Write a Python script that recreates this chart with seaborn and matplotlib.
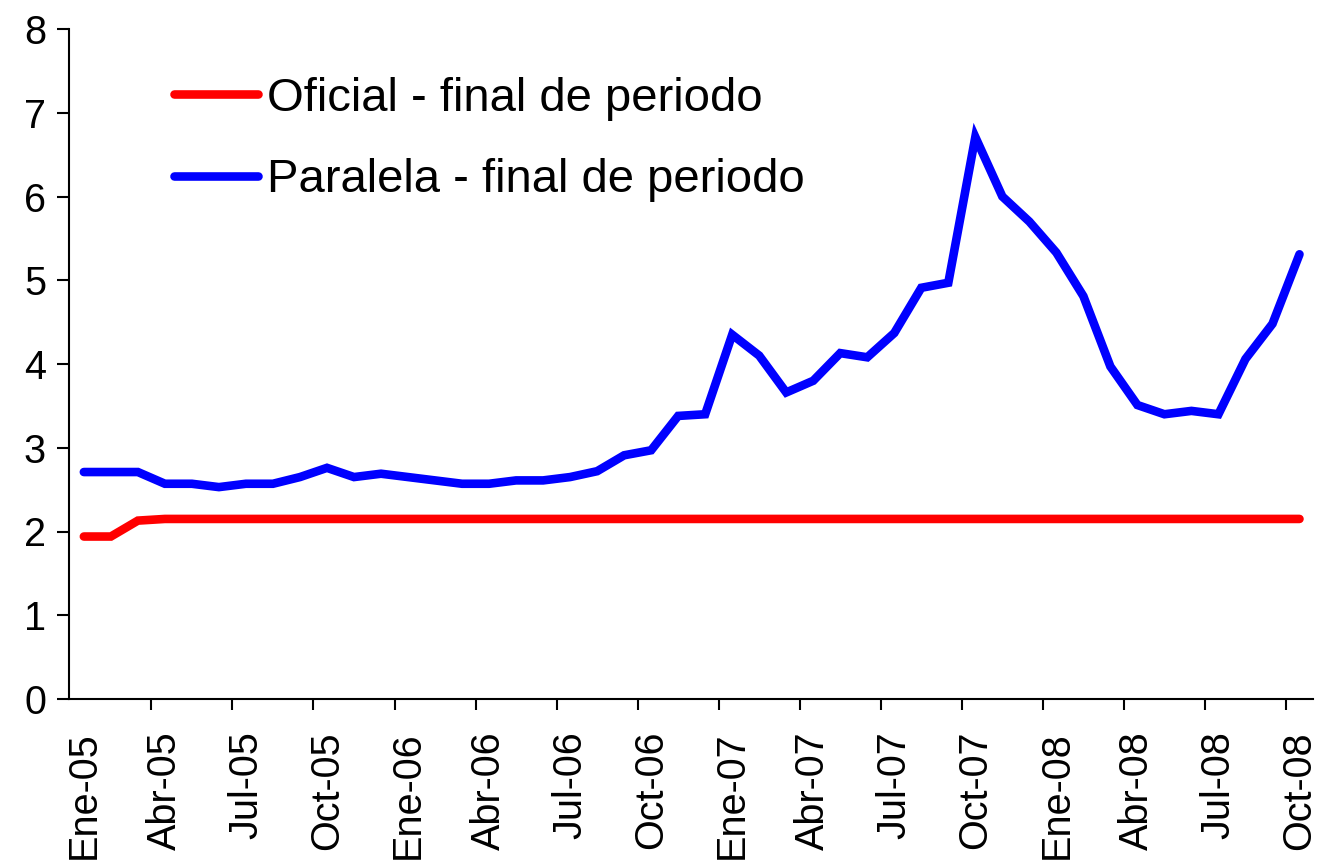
import matplotlib
matplotlib.use("Agg")
import matplotlib.pyplot as plt
import seaborn as sns
import pandas as pd

sns.set_style("white")
plt.rcParams["font.family"] = ["Liberation Sans", "DejaVu Sans"]
plt.rcParams["text.color"] = "black"
plt.rcParams["xtick.color"] = "black"
plt.rcParams["ytick.color"] = "black"

meses = ["Ene", "Feb", "Mar", "Abr", "May", "Jun",
         "Jul", "Ago", "Sep", "Oct", "Nov", "Dic"]
anios = ["05", "06", "07", "08"]
periodos = [f"{m}-{a}" for a in anios for m in meses][:46]  # Ene-05 .. Oct-08

oficial = [1.94, 1.94, 2.13] + [2.15] * 43

paralela = [2.71, 2.71, 2.71, 2.57, 2.57, 2.53, 2.57, 2.57, 2.65, 2.76,
            2.65, 2.69, 2.65, 2.61, 2.57, 2.57, 2.61, 2.61, 2.65, 2.72,
            2.91, 2.97, 3.38, 3.40, 4.35, 4.10, 3.66, 3.80, 4.13, 4.08,
            4.37, 4.91, 4.97, 6.71, 6.00, 5.70, 5.33, 4.81, 3.97, 3.51,
            3.40, 3.44, 3.40, 4.06, 4.48, 5.31]

series_names = ["Oficial - final de periodo", "Paralela - final de periodo"]
colors = ["#ff0000", "#0000ff"]

df = pd.DataFrame({
    "idx": list(range(len(periodos))) * 2,
    "valor": oficial + paralela,
    "serie": [series_names[0]] * len(oficial) + [series_names[1]] * len(paralela),
})

fig = plt.figure(figsize=(13.19, 8.68), dpi=100)
ax = fig.add_axes([69 / 1319, 169 / 868, (1313 - 69) / 1319, (699 - 29) / 868])

sns.lineplot(data=df, x="idx", y="valor", hue="serie", palette=colors,
             linewidth=6.2, ax=ax, legend=True)
for ln in ax.lines:
    ln.set_solid_capstyle("round")
    ln.set_solid_joinstyle("miter")

ax.set_xlim(-0.55, 45.5)
ax.set_ylim(0, 8)
ax.set_yticks(range(0, 9))
ax.set_xlabel("")
ax.set_ylabel("")

# labels at category centres, tick marks at category boundaries
label_pos = list(range(0, len(periodos), 3))
ax.set_xticks(label_pos)
ax.set_xticklabels([periodos[i] for i in label_pos], rotation=90, va="top")
ax.set_xticks([p - 0.5 for p in label_pos[1:]], minor=True)
ax.tick_params(axis="x", which="major", length=0, pad=23, labelsize=28.5)
ax.tick_params(axis="x", which="minor", length=8, width=1.5, direction="out",
               color="black", bottom=True)
ax.tick_params(axis="y", length=8.5, width=1.5, direction="out", color="black",
               pad=8, labelsize=28.5, left=True)

for side in ["top", "right"]:
    ax.spines[side].set_visible(False)
for side in ["left", "bottom"]:
    ax.spines[side].set_color("black")
    ax.spines[side].set_linewidth(1.5)

handles, labels = ax.get_legend_handles_labels()
leg = ax.legend(handles, labels, loc="upper left", frameon=False,
                fontsize=34, handlelength=1.78, handletextpad=0.2,
                labelspacing=0.8, bbox_to_anchor=(0.069, 0.957),
                borderaxespad=0)
for h in leg.get_lines():
    h.set_linewidth(6.2)
    h.set_solid_capstyle("round")
for t in leg.get_texts():
    t.set_color("black")

fig.savefig("out.png", dpi=100)
plt.close(fig)
